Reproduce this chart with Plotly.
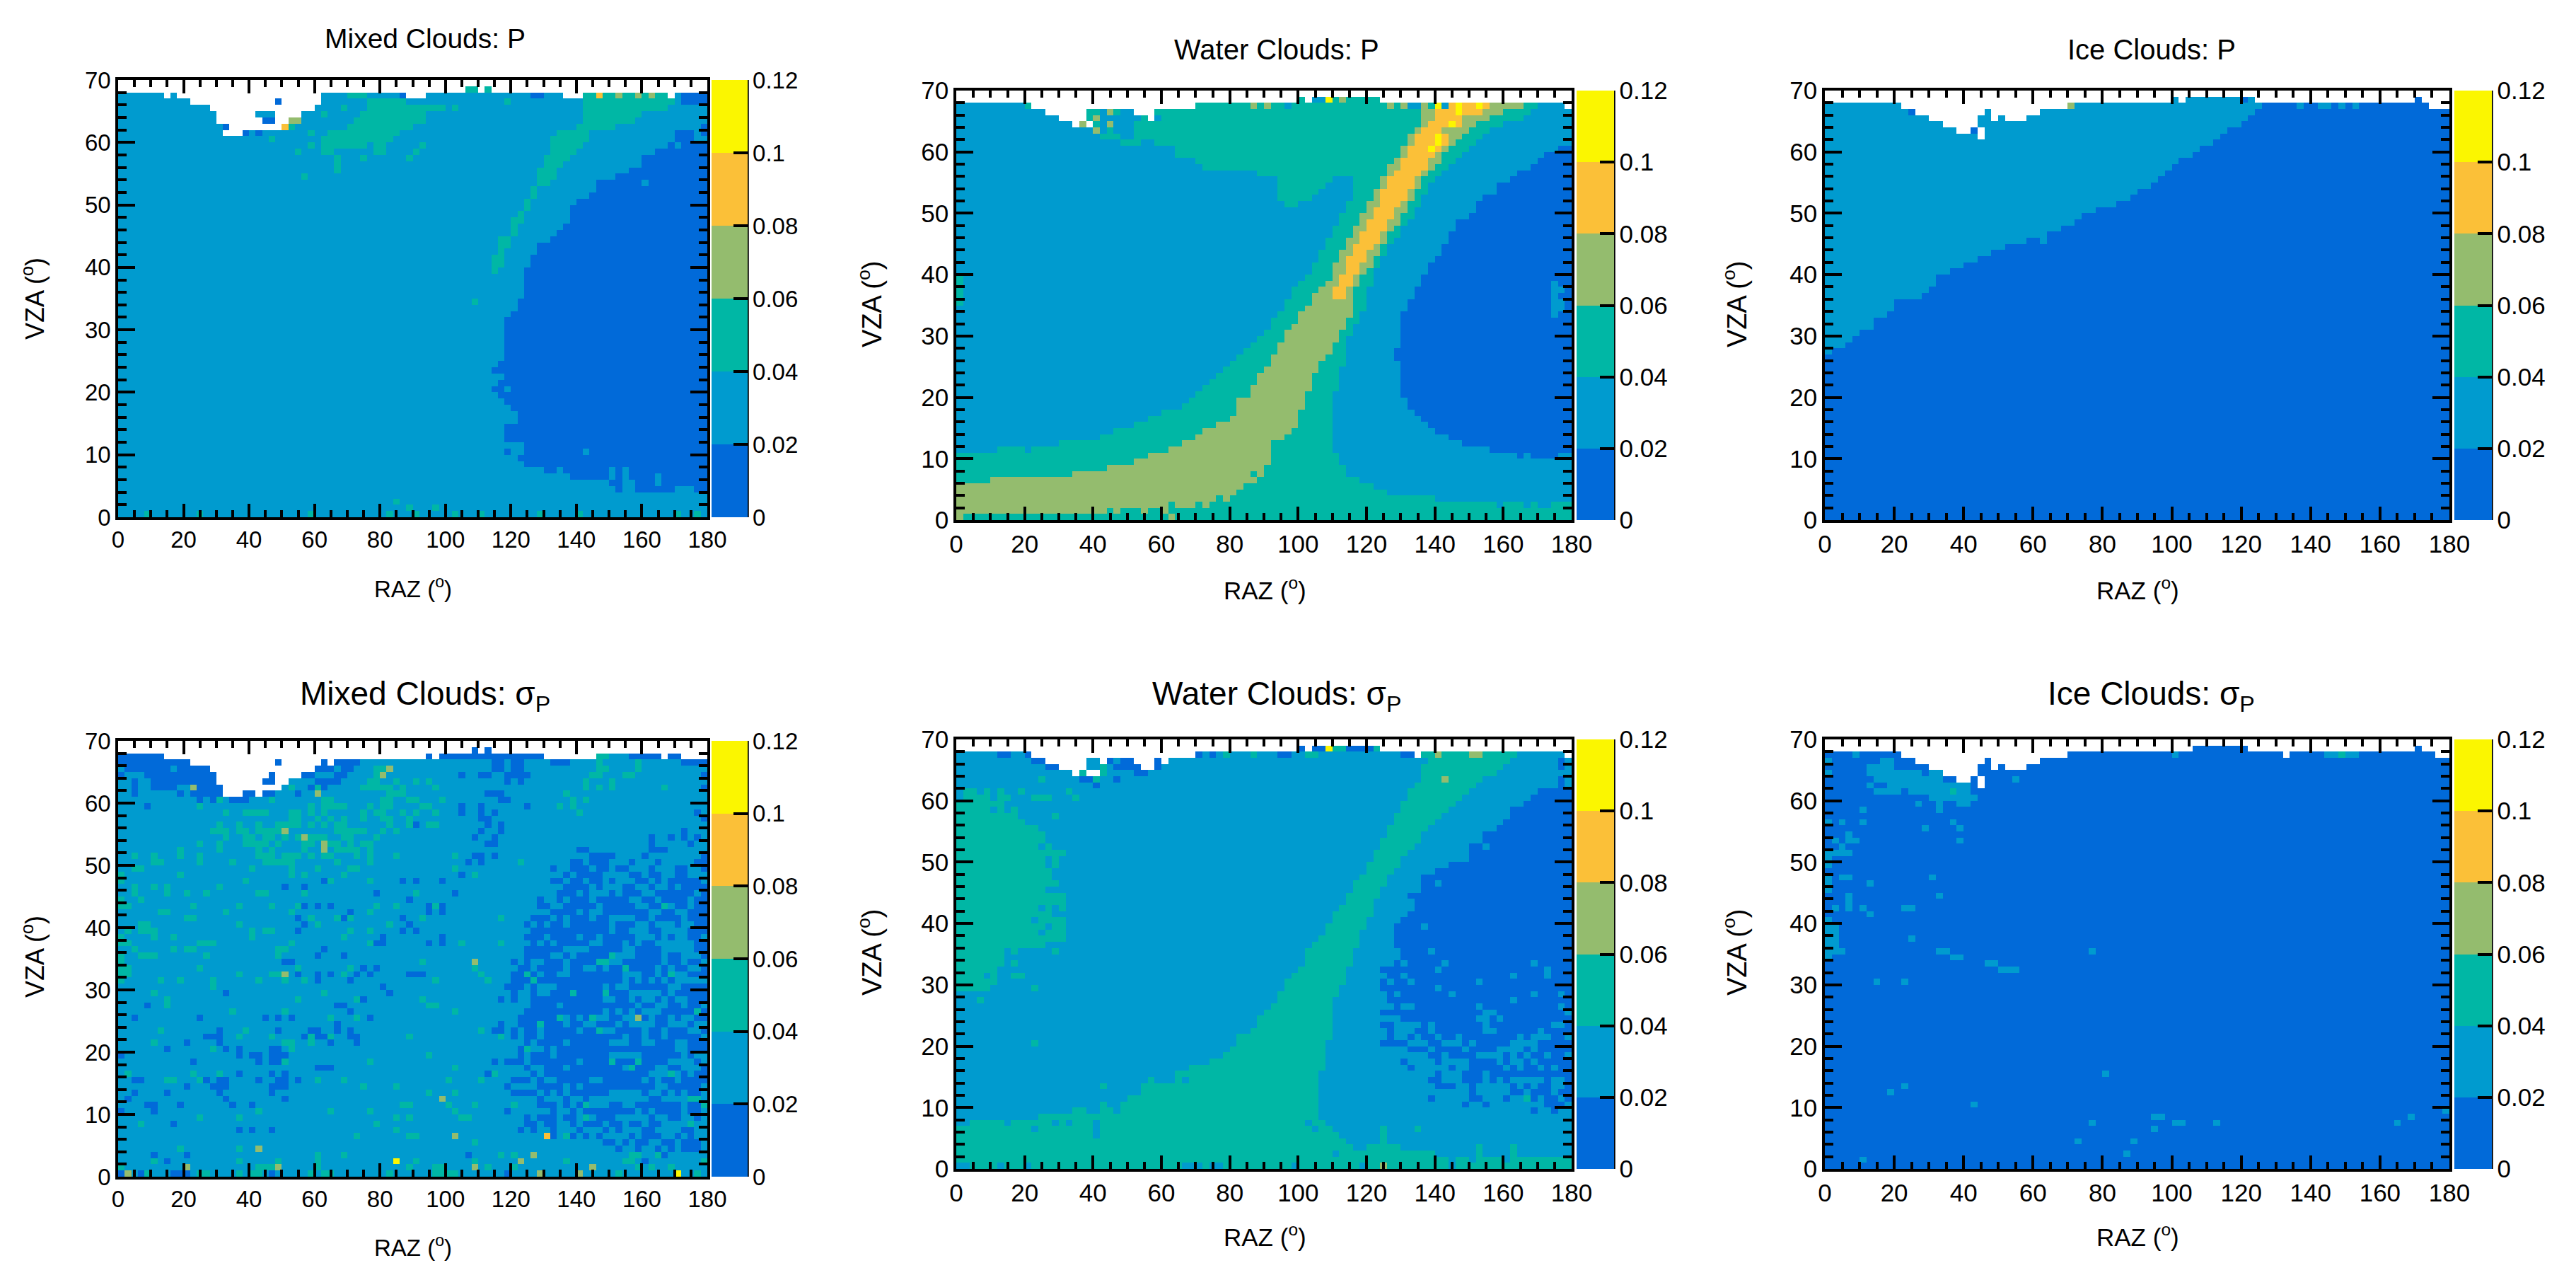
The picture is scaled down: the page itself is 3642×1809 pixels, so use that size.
import numpy as np
import plotly.graph_objects as go

# colour classes of the ROOT palette, one per 0.02 of P
bin_values = [0.01, 0.03, 0.05, 0.07, 0.09, 0.11]
bin_colors = ["#016AD9", "#009BCF", "#00B7A5", "#94BC6E", "#FBC038", "#FBF600"]
cbar_ticks = [0, 0.02, 0.04, 0.06, 0.08, 0.1, 0.12]
cbar_labels = ["0", "0.02", "0.04", "0.06", "0.08", "0.1", "0.12"]
raz_ticks = [0, 20, 40, 60, 80, 100, 120, 140, 160, 180]
vza_ticks = [0, 10, 20, 30, 40, 50, 60, 70]

# each row (VZA bin, 1 deg) is "level stop level stop ...", RAZ bins are 2 deg, -1 is an empty bin
mixed_p_rows = [
    "1 4 2 5 1 12 2 13 1 29 2 30 1 41 2 42 1 45 2 46 1 51 2 52 1 55 2 56 1 64 2 65 1 70 2 71 1 85 2 86 1 88 2 89 1 90",
    "1 44 2 45 1 48 2 49 1 90",
    "1 42 2 43 1 90",
    "1 90",
    "1 76 0 77 1 79 0 85 1 88 0 90",
    "1 75 0 77 1 79 0 82 1 83 0 90",
    "1 69 0 75 1 76 0 77 1 78 0 82 1 83 0 90",
    "1 65 0 67 1 68 0 75 1 76 0 77 1 78 0 90",
    "1 62 0 90",
    "1 61 0 90",
    "1 59 0 60 1 62 0 71 1 72 0 90",
    "1 62 0 90",
    "1 59 0 90",
    "1 59 0 90",
    "1 59 0 90",
    "1 61 0 90",
    "1 61 0 90",
    "1 60 0 90",
    "1 59 0 90",
    "1 58 0 90",
    "1 57 0 59 1 60 0 90",
    "1 58 0 90",
    "1 59 0 90",
    "1 57 0 90",
    "1 58 0 90",
    "1 59 0 90",
    "1 59 0 90",
    "1 59 0 90",
    "1 59 0 90",
    "1 59 0 90",
    "1 59 0 90",
    "1 59 0 90",
    "1 60 0 90",
    "1 61 0 90",
    "1 54 2 55 1 61 0 90",
    "1 62 0 90",
    "1 62 0 90",
    "1 62 0 90",
    "1 62 0 90",
    "1 57 2 58 1 62 0 90",
    "1 57 2 59 1 63 0 90",
    "1 57 2 59 1 63 0 90",
    "1 58 2 59 1 64 0 90",
    "1 58 2 60 1 64 0 90",
    "1 58 2 60 1 66 0 90",
    "1 60 2 61 1 67 0 90",
    "1 60 2 61 1 68 0 90",
    "1 60 2 62 1 69 0 90",
    "1 61 2 62 1 69 0 90",
    "1 62 2 63 1 69 0 90",
    "1 62 2 63 1 70 0 90",
    "1 63 2 64 1 72 0 90",
    "1 63 2 64 1 73 0 90",
    "1 64 2 66 1 73 0 80 1 81 0 90",
    "1 28 2 29 1 64 2 67 1 76 0 90",
    "1 33 2 34 1 64 2 67 1 78 0 90",
    "1 33 2 34 1 65 2 68 1 80 0 90",
    "1 33 2 34 1 37 2 38 1 44 2 45 1 65 2 69 1 80 0 90",
    "1 27 2 28 1 31 2 33 1 39 2 41 1 45 2 46 1 66 2 70 1 82 0 90",
    "1 29 2 30 1 31 2 38 1 39 2 41 1 46 2 47 1 66 2 71 1 84 0 85 1 86 0 90",
    "1 23 2 24 1 31 2 42 1 66 2 72 1 85 0 88 1 90",
    "1 16 -1 19 0 20 1 21 0 22 1 29 2 30 1 32 2 43 1 67 2 72 1 85 0 88 1 89 0 90",
    "1 16 0 17 -1 25 4 26 2 27 1 35 2 45 1 70 2 76 1 89 0 90",
    "1 15 -1 22 0 24 -1 26 3 28 1 36 2 47 1 71 2 79 1 90",
    "1 15 -1 21 1 24 -1 28 1 31 2 32 1 37 2 47 1 71 2 80 1 90",
    "1 14 -1 30 1 34 2 35 1 38 2 50 1 51 2 52 1 71 2 84 1 90",
    "1 11 -1 24 0 25 -1 31 1 38 2 44 1 59 2 60 1 71 2 85 1 86 0 90",
    "1 7 -1 8 1 9 -1 31 1 35 2 38 1 43 0 44 -1 47 1 63 0 65 1 68 -1 71 2 73 4 74 2 76 3 77 2 79 3 80 2 81 3 82 2 84 -1 85 1 86 0 90",
    "-1 53 2 55 -1 56 2 57 -1 90",
]

water_p_rows = [
    "3 1 2 31 3 32 2 90",
    "3 22 2 23 3 24 2 27 3 28 2 30 3 31 2 90",
    "3 31 2 32 3 35 2 36 3 37 2 79 1 80 2 83 1 84 2 85 1 87 2 90",
    "3 38 2 39 3 40 2 70 1 90",
    "3 41 2 63 1 90",
    "3 42 2 61 1 90",
    "2 5 3 44 2 59 1 90",
    "2 17 3 43 2 44 3 45 2 57 1 90",
    "2 22 3 45 2 57 1 90",
    "2 26 3 46 2 56 1 90",
    "2 28 3 46 2 56 1 82 0 83 1 84 0 88 1 90",
    "1 6 2 10 1 11 2 31 3 46 2 55 1 78 0 90",
    "1 15 2 33 3 46 2 55 1 74 0 90",
    "1 21 2 35 3 48 2 55 1 72 0 90",
    "1 23 2 36 3 49 2 55 1 70 0 90",
    "1 26 2 38 3 50 2 55 1 69 0 90",
    "1 28 2 40 3 50 2 55 1 68 0 90",
    "1 30 2 41 3 50 2 55 1 67 0 90",
    "1 33 2 41 3 51 2 55 1 66 0 90",
    "1 34 2 41 3 51 2 55 1 66 0 90",
    "1 35 2 43 3 51 2 55 1 65 0 90",
    "1 36 2 43 3 52 2 56 1 65 0 90",
    "1 37 2 44 3 52 2 56 1 65 0 90",
    "1 38 2 44 3 52 2 56 1 65 0 90",
    "1 39 2 45 3 53 2 56 1 65 0 90",
    "1 40 2 46 3 53 2 57 1 65 0 90",
    "1 41 2 46 3 54 2 57 1 64 0 90",
    "1 42 2 47 3 55 2 57 1 64 0 90",
    "1 43 2 47 3 55 2 57 1 65 0 90",
    "1 44 2 48 3 56 2 57 1 65 0 90",
    "1 45 2 48 3 56 2 58 1 65 0 90",
    "1 46 2 49 3 57 2 58 1 65 0 90",
    "1 46 2 50 3 57 2 59 1 65 0 90",
    "1 47 2 50 3 58 2 59 1 65 0 87 1 88 0 90",
    "1 48 2 51 3 58 2 60 1 66 0 87 1 89 0 90",
    "2 1 1 48 2 52 3 58 2 60 1 66 0 87 1 89 0 90",
    "2 1 1 49 2 52 3 55 4 57 3 58 2 60 1 67 0 87 1 88 0 90",
    "2 1 1 49 2 53 3 55 4 57 3 58 2 60 1 67 0 87 1 89 0 90",
    "2 1 1 50 2 54 3 56 4 58 3 59 2 61 1 68 0 87 1 88 0 90",
    "2 1 1 51 2 55 3 56 4 58 3 59 2 61 1 68 0 90",
    "1 52 2 55 3 57 4 59 3 60 2 61 1 69 0 90",
    "1 52 2 55 3 57 4 59 3 61 2 62 1 69 0 90",
    "1 53 2 56 3 57 4 60 3 61 2 62 1 70 0 90",
    "1 53 2 56 3 58 4 60 3 62 2 63 1 71 0 90",
    "1 54 2 57 3 58 4 61 3 62 2 63 1 71 0 90",
    "1 54 2 57 3 59 4 62 3 63 2 64 1 72 0 90",
    "1 55 2 58 3 59 4 62 3 63 2 65 1 72 0 90",
    "1 55 2 58 3 60 4 63 3 64 2 65 1 73 0 90",
    "1 56 2 59 3 60 4 63 3 65 2 66 1 73 0 90",
    "1 56 2 59 3 61 4 64 3 65 2 67 1 75 0 90",
    "1 57 2 60 3 61 4 64 3 66 2 67 1 76 0 90",
    "1 48 2 50 1 57 2 60 3 62 4 65 3 66 2 68 1 76 0 90",
    "1 47 2 52 1 58 2 61 3 62 4 66 3 67 2 68 1 77 0 90",
    "1 47 2 53 1 58 2 61 3 62 4 66 3 67 2 69 1 79 0 90",
    "1 47 2 54 1 58 2 62 3 63 4 67 3 68 2 69 1 79 0 90",
    "1 47 2 55 1 58 2 62 3 63 4 67 3 68 2 70 1 81 0 90",
    "1 44 2 63 3 64 4 68 3 69 2 71 1 82 0 90",
    "1 36 2 63 3 65 4 69 3 70 2 72 1 84 0 90",
    "1 35 2 64 3 65 4 69 3 71 2 73 1 85 0 90",
    "1 32 2 65 3 66 4 70 3 71 2 74 1 86 0 90",
    "1 32 2 65 3 66 4 69 5 70 4 71 3 72 2 75 1 88 0 90",
    "1 24 2 27 1 29 2 66 3 67 4 70 5 71 4 72 3 73 2 76 1 90",
    "1 21 2 24 1 26 2 66 3 67 4 70 5 71 4 72 3 74 2 77 1 90",
    "1 20 3 21 1 22 2 23 1 26 2 67 3 68 4 71 3 75 2 78 1 90",
    "1 17 -1 18 3 19 -1 20 2 21 1 22 3 23 1 26 2 68 3 69 4 72 5 73 4 74 3 76 2 80 1 90",
    "1 15 -1 19 2 20 3 21 1 27 2 28 -1 29 1 30 2 68 3 70 4 74 3 78 2 83 1 90",
    "1 13 -1 19 2 21 1 22 3 23 2 24 1 26 -1 29 2 68 3 70 4 73 5 74 4 77 3 80 2 84 1 90",
    "1 10 2 11 -1 35 2 43 3 44 2 45 3 46 2 48 1 49 2 63 3 64 2 65 3 66 1 68 3 69 2 70 5 71 1 72 4 73 5 74 4 76 5 77 4 78 3 83 2 85 1 89 -1 90",
    "-1 50 2 51 -1 52 1 54 5 55 2 56 3 57 2 62 -1 90",
]

ice_p_rows = ["0 90"] * 27 + [
    "1 1 0 90",
    "1 3 0 90",
    "1 4 0 90",
    "1 5 0 90",
    "1 7 0 90",
    "1 7 0 90",
    "1 9 0 90",
    "1 10 0 90",
    "1 10 0 90",
    "1 14 0 90",
    "1 15 0 90",
    "1 16 0 90",
    "1 16 0 90",
    "1 18 0 90",
    "1 20 0 90",
    "1 22 0 90",
    "1 24 0 90",
    "1 26 0 90",
    "1 29 0 31 1 32 0 90",
    "1 32 0 90",
    "1 34 0 90",
    "1 36 0 90",
    "1 37 0 90",
    "1 39 0 90",
    "1 42 0 90",
    "1 44 0 90",
    "1 45 0 90",
    "1 47 0 90",
    "1 48 0 90",
    "1 49 0 90",
    "1 50 0 90",
    "1 51 0 90",
    "1 53 0 90",
    "1 54 0 90",
    "1 56 0 90",
    "1 22 -1 23 1 57 0 90",
    "1 19 -1 21 0 22 -1 23 1 58 0 90",
    "1 17 -1 22 1 60 0 90",
    "1 15 -1 22 1 24 -1 25 1 26 -1 29 1 61 0 90",
    "1 12 0 13 -1 23 1 24 -1 31 1 62 0 90",
    "1 11 -1 35 3 36 1 63 0 68 1 69 0 71 1 73 0 74 1 75 0 76 1 77 0 87 -1 90",
    "-1 50 1 51 -1 52 1 60 0 61 1 62 -1 85 0 86 -1 90",
]

# mixed sigma is mostly speckle: base rows plus the bins that differ, per VZA bin
mixed_sigma_base = {
    61: "1 16 -1 19 1 21 -1 22 1 90",
    62: "1 16 -1 25 1 90",
    63: "1 15 -1 22 1 24 -1 26 1 90",
    64: "1 15 -1 23 1 24 -1 28 1 90",
    65: "1 14 -1 30 1 90",
    66: "0 11 -1 24 0 25 -1 31 0 32 -1 33 1 90",
    67: "0 7 -1 47 0 48 -1 49 0 65 -1 73 2 75 1 78 0 83 -1 84 0 86 -1 90",
    68: "-1 54 0 55 -1 56 0 57 -1 90",
    69: "-1 90",
}
mixed_sigma_low = {
    0: "0 3 8-10 23 59",
    2: "7 80",
    3: "5 10 53 83",
    4: "76 79 82 84 86-88",
    5: "74-75 77 79-80 83-84 86-88",
    6: "66 69 71 73 78 80-82 85 87",
    7: "18 20 23 61 63 66 70 74 76 80-81 86-87",
    8: "8 62-63 65-66 69 71-73 75-76 78-79 81-82",
    9: "62 64-66 68-69 73-75 81 84-85 88",
    10: "0 5 59 66 69 71-78 80 82-85 87-88",
    11: "4-5 9 17 20 64-66 68 70 75-76 79-85 87-88",
    12: "1 16 25 64 68 71 81-82",
    13: "2 7 15 23 60-63 65 67 69-74 80 83 85 87-88",
    14: "10 14-16 23-25 59 64-67 69 71-81 84-88",
    15: "2-3 13 15-16 21 24-25 27 60-62 64 67-71 74-79 81 83-84 86-89",
    16: "18 23 25 56 63 65-80 86 88-89",
    17: "30-32 62 65-67 69-76 79-81 84-85 89",
    18: "11 21 23-24 57 59-61 63-69 71-74 76-78 80-83 88",
    19: "0 18 20-21 23-25 61 63-65 67-74 80-85 87",
    20: "7 16 18 23-24 61 65 67-84 87-89",
    21: "10 15 32 36 62 64-67 69-74 78-79 82-84 87-89",
    22: "13-15 28 30-31 35-36 60 62-63 65-76 78-79 81-82 84-88",
    23: "15 24 29-30 33 35 57-58 60 62-63 65-69 71-72 76-79 81-82 84-86 89",
    24: "33 58 61-63 65-67 69-70 73-75 77 82-83 87",
    25: "2 12 22 24 26 38 61-66 69 71 75-76 80 82-83 85 88-89",
    26: "35 62-73 75 77 79 83-87 89",
    27: "4 33-34 63-66 68-78 80-81 84-85 87-88",
    28: "37 58 60 63-73 76-77 79 82 84 87-89",
    29: "16 41 60 63 66-68 70-73 75-77 83 85-89",
    30: "40 59-61 63 67-73 75 78-83 86-89",
    31: "30 35 60-62 64-76 78 80 82 84",
    32: "27 30 32 36 38 44-46 60-61 63 65-66 69-76 80-81 83 87-89",
    33: "37 39 61-62 64-67 69-70 73 75-76 78-81 83 85-86 89",
    34: "25-26 60 62 65-67 69-72 77-82 84-85 87-88",
    35: "30 34 62-65 68 70-74 79-82 84-85 89",
    36: "31 62-67 72-76 79-82 88-89",
    37: "39-40 47 49 63 65 67-71 74-76 78 80-81 88-89",
    38: "40 49 62-64 66-69 71-72 74-78 82 84 87-88",
    39: "27 43 45 63-74 76-77 81-82 87-89",
    40: "28 44 62 64 66-67 69-74 76-78 81 85 88-89",
    41: "27 34 43 63-65 67 69-71 73-74 79-80 82-85 87-89",
    42: "35 47 49 66-69 71 74-80 83-84 87-89",
    43: "28 30 32 47 49 64-65 68-72 74-78 81-82 85-86 88-89",
    44: "44 64 67 69-71 73-77 80-81 83-86 88-89",
    45: "39 51 67-69 71 75 77-79 82-87 89",
    46: "25 28 68-71 73 77-78 81 84 86-89",
    47: "31 43 45 49 66-67 69-70 72-73 75 79-80 82 84-88",
    48: "52 68 70-73 78-79 81-82 85-86",
    49: "66 69-71 73-74 76-77 81 85-86 89",
    50: "53 55 69-70 72-74 78 82 88-89",
    51: "54-55 57 72-75 80 89",
    52: "70-71 81-83",
    53: "56-57 81 87",
    54: "54 57 81 84 86 88",
    55: "55 58 86",
    56: "45 56 58",
    57: "55-56 89",
    58: "52 55 57 88",
    59: "4 52 55 62",
    60: "12 14 17-19 58-59",
    61: "2 9 11-15 19-20 22-23 27 56-58",
    62: "2 5-8 12-15 29 31 89",
    63: "2 5-14 22-23 30-33 59 61",
    64: "0 4-14 23 28-29 33-34 52 55-56 59-62 89",
    65: "1-7 9-13 30-32 34-35 57-58 60-61",
    66: "33-36 57-58 60-61 66-68 86-89",
}
mixed_sigma_mid = {
    0: "4 12-13 18 20-21 29 31-32 41 48-51 76 88",
    1: "0 21-23 30 44 48-49 56 60 79 81 84",
    2: "5 18 24 30 45 54 68 77-78 89",
    3: "30 34 58 60 78-79 82",
    4: "9 18",
    5: "54",
    6: "36 44-45 68",
    7: "42",
    8: "3 39 87",
    9: "12 18 42 44 52-53 71",
    10: "21 32 38 51",
    11: "43-44 50 54 60 71 89",
    12: "87-88",
    13: "47 51",
    14: "37 42",
    15: "7-8 12 30 34 50 55",
    16: "1 11 15 57 84",
    17: "51 78",
    18: "25 38 75 79",
    19: "47",
    20: "14 26 62",
    21: "5 25-26 29",
    22: "18 23 29 32 44 58",
    23: "6 19 55 73",
    24: "64",
    25: "32 36 67 72",
    26: "17 25 51 88",
    27: "7 47-48",
    28: "7 27 36 46",
    29: "5 31 69 74",
    30: "14",
    31: "0 6 9 14 21 25 28 48 56 63",
    32: "0-1 18 23-24 34 55 62 84",
    33: "0-1 12 27 35 54 77",
    34: "0 46 73-74",
    35: "0 3-5 13 24 75",
    36: "2 8 10-11 24-25",
    37: "0-1 12-14 26 38 52 58",
    38: "0 5 8 20 34",
    39: "1 3-5 20 22-23 35 38",
    40: "3-4 18 30 41",
    41: "10-11 29 33 35 46 58",
    42: "6-7 16 26 38",
    43: "0-1 11 18 23 27 39 42 48 83",
    44: "0 3",
    45: "2 7 10 13 21-22 28 45",
    46: "2 5 7 15",
    47: "0 19 32 38",
    48: "0 9 26 28 34 54",
    49: "2-3 20 26 30 35-36 51",
    50: "5-6 12 17 22-26 33 38 61",
    51: "2 5 9 12 21-23 25-27 29 31-32 36 38 42 51",
    52: "9 15 21 23 28 33-36 38",
    53: "12 15 19-22 24 28-29 32-33 35 37-38",
    54: "16 19-20 22-23 25 27 29-31 34-35 39",
    55: "14-16 18-19 21-24 33-37 40 42",
    56: "15 18 21 24-27 29 31 33-34 41 44 47-48",
    57: "26-27 30 32 34 37 40-41 44",
    58: "16 19-22 26-27 29 31 37 39-40 43 45 48 70",
    59: "12 29 31-34 38 40-41 46-47 67 69",
    60: "15 23 31-32 40-41 44 45 49 69 71",
    61: "41-43 68",
    62: "26 30 37-41 43 48 71 73 75 83",
    63: "38-39 42 45 47 71 75",
    64: "39 72-73 77-78",
    65: "39-40 73-74 79",
    66: "73 79",
}
mixed_sigma_high = {
    3: {0: "1 64 70", 1: "10 24 54 72", 2: "61", 3: "63", 4: "21", 6: "51", 12: "49", 25: "79",
        32: "25", 34: "54", 52: "31", 53: "31", 54: "28", 55: "25", 61: "30", 62: "11", 64: "40", 65: "41"},
    4: {6: "65"},
    5: {0: "85", 2: "42"},
}

water_sigma_rows = [
    "1 2 2 6 1 7 2 10 1 11 2 33 1 36 2 37 1 39 2 49 1 50 2 59 1 60 2 62 3 63 2 72 1 73 2 90",
    "2 72 1 73 2 75 1 76 2 80 1 81 2 90",
    "2 55 1 56 2 70 1 76 2 77 1 81 2 82 1 90",
    "2 58 1 60 2 65 1 76 2 77 1 81 2 82 1 90",
    "2 57 1 62 2 63 1 90",
    "2 20 1 21 2 56 1 62 2 63 1 90",
    "2 11 1 12 2 20 1 21 2 52 1 53 2 55 1 62 2 63 1 67 2 68 1 90",
    "1 2 2 7 1 8 2 14 1 15 2 16 1 17 2 20 1 21 2 51 1 52 2 54 1 90",
    "1 12 2 53 1 90",
    "1 17 2 19 1 21 2 23 1 24 2 53 1 84 0 85 1 87 0 88 1 90",
    "1 21 2 22 1 24 2 53 1 74 0 75 1 77 0 78 1 86 0 89 1 90",
    "1 25 2 53 1 69 0 70 1 75 0 77 1 80 0 81 1 83 2 84 0 85 1 86 0 88 1 89 0 90",
    "1 27 2 53 1 75 0 76 1 81 0 83 1 84 0 87 1 88 0 90",
    "1 21 2 22 1 27 2 53 1 70 0 73 1 75 0 76 1 81 0 82 1 83 0 84 1 85 0 87 1 89 0 90",
    "1 28 2 29 1 32 2 33 1 34 2 53 1 69 0 71 1 74 0 77 1 78 0 79 1 80 0 81 1 86 0 87 1 89 0 90",
    "1 32 2 53 1 70 0 71 1 74 0 77 1 78 0 90",
    "1 34 2 54 1 66 0 67 1 72 0 73 1 75 0 80 1 81 0 82 1 83 0 85 1 86 0 87 1 88 0 90",
    "1 37 2 54 1 65 0 66 1 70 0 71 1 75 0 79 1 80 0 81 1 83 0 84 1 85 0 90",
    "1 39 2 54 1 69 0 71 1 72 0 76 1 80 0 81 1 82 0 83 1 84 0 86 1 87 0 89 1 90",
    "1 40 2 54 1 66 0 69 1 70 0 74 1 75 0 79 1 83 0 84 1 85 0 90",
    "1 11 2 12 1 41 2 54 1 62 0 66 1 69 0 71 1 74 0 75 1 76 0 81 1 85 0 90",
    "1 41 2 55 1 63 0 64 1 66 0 67 1 68 0 70 1 71 0 73 1 74 0 82 1 83 0 84 1 87 0 89 1 90",
    "1 43 2 55 1 63 0 64 1 67 0 69 1 70 0 77 1 79 0 85 1 86 0 90",
    "1 44 2 55 1 62 0 64 1 68 0 69 1 70 0 77 1 78 0 87 1 89 0 90",
    "1 44 2 55 1 65 0 76 1 78 0 79 1 80 0 90",
    "1 45 2 55 1 62 0 77 1 79 0 89 1 90",
    "1 46 2 55 1 64 0 65 1 67 0 76 1 77 0 88 1 89 0 90",
    "1 3 2 4 1 47 2 55 1 63 0 81 1 82 0 90",
    "1 47 2 56 1 63 0 64 1 65 0 72 1 73 0 84 1 85 0 88 1 89 0 90",
    "2 5 1 11 2 12 1 48 2 56 1 62 0 70 1 71 0 90",
    "2 6 1 48 2 57 1 62 0 63 1 64 0 66 1 67 0 76 1 77 0 90",
    "2 4 1 5 2 6 1 8 2 10 1 49 2 57 1 63 0 65 1 66 0 81 1 82 0 86 1 87 0 90",
    "2 6 1 50 2 57 1 62 0 70 1 71 0 86 1 87 0 90",
    "2 7 1 8 2 9 1 51 2 58 1 64 0 65 1 66 0 71 1 72 0 84 1 85 0 90",
    "2 7 1 51 2 58 1 65 0 90",
    "2 7 1 8 2 9 1 14 2 15 1 51 2 58 1 65 0 69 1 70 0 90",
    "2 13 1 52 2 59 1 64 0 90",
    "2 16 1 53 2 59 1 64 0 90",
    "2 12 1 13 2 16 1 54 2 59 1 64 0 90",
    "2 13 1 14 2 16 1 54 2 60 1 64 0 68 1 69 0 90",
    "2 11 1 12 2 16 1 55 2 60 1 65 0 90",
    "2 14 1 55 2 61 1 66 0 90",
    "2 12 1 13 2 14 1 15 2 16 1 56 2 61 1 67 0 90",
    "2 16 1 57 2 61 1 67 0 90",
    "2 16 1 57 2 62 1 66 0 90",
    "2 13 1 58 2 62 1 68 0 90",
    "2 15 1 58 2 63 1 68 0 70 1 71 0 90",
    "2 14 1 59 2 63 1 68 0 90",
    "2 14 1 60 2 64 1 70 0 90",
    "2 13 1 14 2 15 1 60 2 65 1 72 0 90",
    "2 13 1 14 2 15 1 61 2 65 1 75 0 90",
    "2 16 1 61 2 66 1 75 0 90",
    "2 12 1 13 2 14 1 62 2 67 1 75 0 77 1 78 0 90",
    "2 13 1 62 2 68 1 77 0 90",
    "2 13 1 63 2 68 1 77 0 90",
    "2 12 1 63 2 69 1 79 0 90",
    "2 10 1 64 2 70 1 80 0 90",
    "2 9 1 14 2 15 1 64 2 71 1 81 0 90",
    "2 5 1 6 2 7 1 8 2 9 1 65 2 72 1 81 0 90",
    "2 7 1 65 2 73 1 83 0 90",
    "1 1 2 5 1 6 2 8 1 11 2 14 1 17 2 18 1 66 2 74 1 84 0 90",
    "1 1 2 3 1 4 2 5 1 6 2 7 1 9 2 10 1 16 2 17 1 66 2 75 1 85 0 90",
    "1 20 0 21 1 67 2 76 1 88 0 89 1 90",
    "1 12 2 13 1 18 0 20 2 21 1 23 0 24 1 68 2 71 3 72 2 77 1 88 0 89 1 90",
    "1 17 -1 18 2 19 -1 21 2 22 1 26 0 28 1 68 2 79 1 90",
    "1 13 0 15 -1 19 1 21 2 22 1 23 0 27 -1 29 0 30 1 68 2 80 1 88 0 89 1 90",
    "1 11 0 13 -1 19 1 21 -1 22 0 23 1 24 0 26 -1 29 0 30 -1 31 1 69 2 81 1 88 0 89 1 90",
    "1 6 0 8 1 10 0 11 -1 35 0 36 1 37 0 38 1 39 2 40 1 43 2 44 1 47 0 49 1 51 2 53 1 65 0 67 -1 68 2 70 3 71 2 75 3 77 2 82 1 89 -1 90",
    "-1 50 0 51 -1 52 0 54 5 55 2 57 0 61 2 62 -1 90",
]

# ice sigma: almost everything in the lowest class
ice_sigma_rows = ["0 90"] * 62 + [
    "0 22 -1 23 0 90",
    "0 19 -1 21 0 22 -1 23 0 90",
    "0 17 -1 22 0 90",
    "0 15 -1 22 0 24 -1 25 0 26 -1 29 0 90",
    "0 13 -1 23 0 24 -1 31 0 90",
    "0 11 -1 35 0 66 -1 67 0 88 -1 90",
    "-1 53 0 61 -1 85 0 86 -1 90",
]
ice_sigma_mid = {
    1: "5", 2: "43", 4: "36 44", 6: "47", 7: "38 50-51 56 82", 8: "47-48 84", 9: "89", 10: "21", 12: "9", 13: "11",
    15: "40", 30: "7 11", 32: "25-27", 33: "23-24", 34: "0 18-19", 35: "0-2 16-17 38",
    36: "0-1", 37: "0-1 12", 38: "0-1", 39: "0-1", 40: "0", 41: "6", 42: "1 3 5 11-12", 43: "3", 44: "3 16",
    45: "0", 46: "0 6", 47: "0 2-3 15", 49: "0", 50: "0", 51: "0-3", 52: "2", 53: "1 3-4 19", 54: "3",
    55: "14 19", 56: "0 2 5 18", 58: "5 16", 59: "13 16 19-20", 60: "15-21", 61: "7-10 12-17 19-20",
    62: "6 9-20", 63: "7-16 27", 64: "0 6-13 15-16", 65: "6-9", 66: "0 8-9", 67: "4 50 72-73 75-76",
}
ice_sigma_high = {2: {61: "18", 67: "74"}}

panel_titles = ["Mixed Clouds: P", "Water Clouds: P", "Ice Clouds: P",
                "Mixed Clouds: σ<sub>P</sub>", "Water Clouds: σ<sub>P</sub>", "Ice Clouds: σ<sub>P</sub>"]

W, H = 3642, 1809
FONT = "Liberation Sans"
LINE = 3.5
# frame and colour bar of each panel in image pixels: left, right, top, bottom, bar left, bar right
FRAMES = [
    (167, 1000, 113, 731, 1006, 1057),
    (1352, 2222, 128, 735, 2229, 2282),
    (2580, 3463, 128, 735, 3470, 3523),
    (167, 1000, 1047, 1663, 1006, 1057),
    (1352, 2222, 1045, 1652, 2229, 2282),
    (2580, 3463, 1045, 1652, 3470, 3523),
]
# the left column was pasted in slightly smaller than the other two
TICK_SIZE = [33, 35, 35, 33, 35, 35]
XLABEL_SIZE = [33, 35, 35, 33, 35, 35]
YLABEL_SIZE = [36, 38, 38, 36, 38, 38]
# centres of title, x label, y label
TITLE_POS = [(601, 55, 39), (1805, 70, 40), (3042, 70, 40), (601, 984, 46), (1805, 984, 46), (3041, 984, 46)]
XLABEL_POS = [(584, 830), (1788, 832), (3022, 832), (584, 1761), (1788, 1746), (3022, 1746)]
YLABEL_POS = [(47, 422), (1230, 430), (2453, 430), (47, 1352), (1230, 1346), (2453, 1346)]


def parse_runs(text):
    """Turn 'level stop level stop' into a list of 90 class numbers."""
    tokens = [int(t) for t in text.split()]
    row = []
    for level, stop in zip(tokens[0::2], tokens[1::2]):
        row += [level] * (stop - len(row))
    return row


def parse_cols(text):
    """Turn '3 8-10' into [3, 8, 9, 10]."""
    cols = []
    for part in text.split():
        if "-" in part:
            a, b = part.split("-")
            cols += list(range(int(a), int(b) + 1))
        else:
            cols.append(int(part))
    return cols


def to_values(grid):
    z = np.full(grid.shape, np.nan)
    for level, value in enumerate(bin_values):
        z[grid == level] = value
    return z


def make_grid(rows, default="-1 90"):
    grid = [parse_runs(default) for _ in range(70)]
    if isinstance(rows, dict):
        items = rows.items()
    else:
        items = enumerate(rows)
    for i, text in items:
        grid[i] = parse_runs(text)
    return np.array(grid)


def overlay(grid, level, spots):
    for row, text in spots.items():
        for col in parse_cols(text):
            if grid[row, col] != -1:
                grid[row, col] = level


mixed_sigma = make_grid(mixed_sigma_base, default="1 90")
overlay(mixed_sigma, 0, mixed_sigma_low)
overlay(mixed_sigma, 2, mixed_sigma_mid)
for level, spots in mixed_sigma_high.items():
    overlay(mixed_sigma, level, spots)

ice_sigma = make_grid(ice_sigma_rows)
overlay(ice_sigma, 1, ice_sigma_mid)
for level, spots in ice_sigma_high.items():
    overlay(ice_sigma, level, spots)

grids = [make_grid(mixed_p_rows), make_grid(water_p_rows), make_grid(ice_p_rows),
         mixed_sigma, make_grid(water_sigma_rows), ice_sigma]

raz_centers = [2 * i + 1 for i in range(90)]
vza_centers = [i + 0.5 for i in range(70)]

# stepped colour scale, 6 classes between 0 and 0.12
colorscale = []
for i, c in enumerate(bin_colors):
    colorscale += [[i / 6, c], [(i + 1) / 6, c]]

fig = go.Figure()
for i, grid in enumerate(grids):
    left, right, top, bottom, bar_l, bar_r = FRAMES[i]
    axis = "" if i == 0 else str(i + 1)
    tick_font = dict(family=FONT, size=TICK_SIZE[i], color="black")
    fig.add_trace(go.Heatmap(
        z=to_values(grid).tolist(), x=raz_centers, y=vza_centers,
        xaxis="x" + axis, yaxis="y" + axis,
        colorscale=colorscale, zmin=0, zmax=0.12, zsmooth=False, hoverongaps=False,
        colorbar=dict(
            x=bar_l / W, xanchor="left", xpad=0, ypad=0,
            y=1 - (top + bottom) / 2 / H, yanchor="middle",
            len=(bottom - top) / H, lenmode="fraction",
            thickness=bar_r - bar_l, thicknessmode="pixels",
            outlinewidth=0, borderwidth=0,
            tickmode="array", tickvals=cbar_ticks, ticktext=cbar_labels,
            ticks="inside", ticklen=20, tickwidth=LINE, tickcolor="black",
            tickfont=tick_font,
        ),
    ))
    fig.update_layout({
        "xaxis" + axis: dict(
            domain=[left / W, right / W], range=[0, 180], anchor="y" + axis,
            tickmode="array", tickvals=raz_ticks, ticks="inside", ticklen=19, tickwidth=LINE,
            tickcolor="black", showline=True, linecolor="black", linewidth=LINE, mirror="ticks",
            showgrid=False, zeroline=False,
            minor=dict(dtick=5, ticks="inside", ticklen=10, tickwidth=LINE, tickcolor="black", showgrid=False),
            tickfont=tick_font,
        ),
        "yaxis" + axis: dict(
            domain=[1 - bottom / H, 1 - top / H], range=[0, 70], anchor="x" + axis,
            tickmode="array", tickvals=vza_ticks, ticks="inside", ticklen=24, tickwidth=LINE,
            tickcolor="black", showline=True, linecolor="black", linewidth=LINE, mirror="ticks",
            showgrid=False, zeroline=False,
            minor=dict(dtick=2, ticks="inside", ticklen=12, tickwidth=LINE, tickcolor="black", showgrid=False),
            tickfont=tick_font,
        ),
    })
    # ROOT draws only the right edge of the palette axis
    fig.add_shape(type="line", xref="paper", yref="paper", x0=bar_r / W, x1=bar_r / W,
                  y0=1 - bottom / H, y1=1 - top / H, line=dict(color="black", width=LINE))

    tx, ty, tsize = TITLE_POS[i]
    fig.add_annotation(text=panel_titles[i], x=tx / W, y=1 - ty / H, xref="paper", yref="paper",
                       showarrow=False, xanchor="center", yanchor="middle",
                       font=dict(family=FONT, size=tsize, color="black"))
    lx, ly = XLABEL_POS[i]
    fig.add_annotation(text="RAZ (<sup>o</sup>)", x=lx / W, y=1 - ly / H, xref="paper", yref="paper",
                       showarrow=False, xanchor="center", yanchor="middle",
                       font=dict(family=FONT, size=XLABEL_SIZE[i], color="black"))
    lx, ly = YLABEL_POS[i]
    fig.add_annotation(text="VZA (<sup>o</sup>)", x=lx / W, y=1 - ly / H, xref="paper", yref="paper",
                       showarrow=False, textangle=-90, xanchor="center", yanchor="middle",
                       font=dict(family=FONT, size=YLABEL_SIZE[i], color="black"))

# autoexpand off: colour bars must not push the panels away from their pixel positions
fig.update_layout(width=W, height=H, margin=dict(l=0, r=0, t=0, b=0, pad=0, autoexpand=False),
                  paper_bgcolor="white", plot_bgcolor="white", showlegend=False)
# the page must not add its own margin round the fixed-size figure
fig.write_html("out.html", config=dict(displayModeBar=False),
               post_script="document.body.style.margin='0';document.body.style.overflow='hidden';")
